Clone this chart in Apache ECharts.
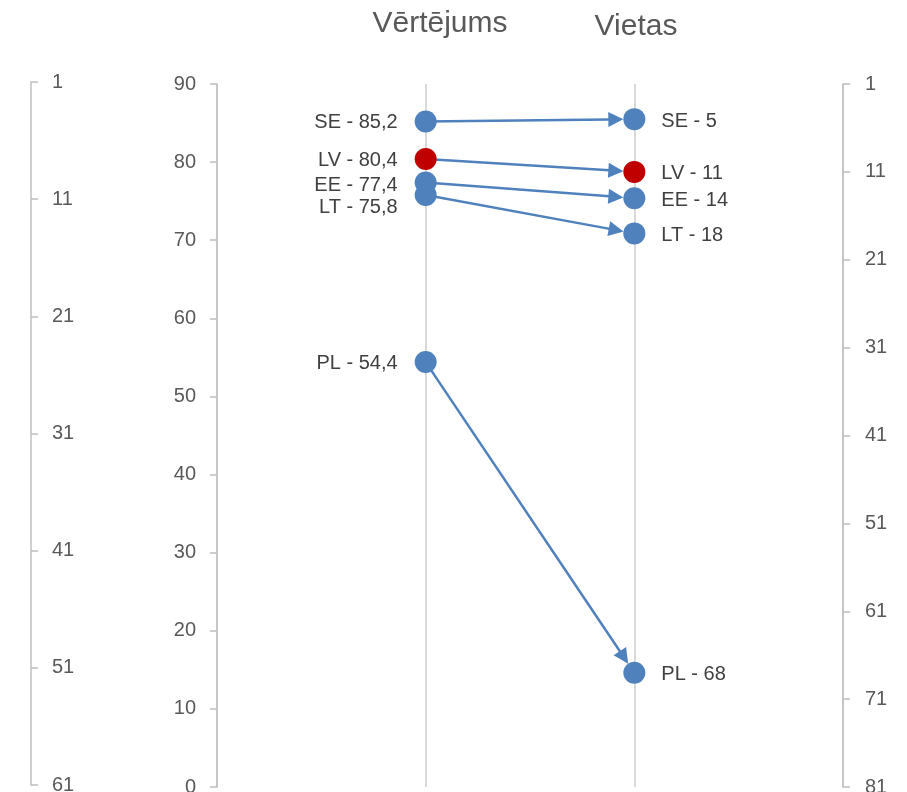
<!DOCTYPE html>
<html>
<head>
<meta charset="utf-8">
<title>Vērtējums / Vietas</title>
<script src="https://cdn.jsdelivr.net/npm/echarts@6/dist/echarts.min.js"></script>
<style>
  html, body { margin: 0; padding: 0; background: #fff; }
  #chart { width: 907px; height: 792px; }
</style>
</head>
<body>
<div id="chart"></div>
<script>
// dati
var countries = ['SE', 'LV', 'EE', 'LT', 'PL']
var scores = [85.2, 80.4, 77.4, 75.8, 54.4]   // vērtējums
var ranks = [5, 11, 14, 18, 68]               // vieta
var headers = ['Vērtējums', 'Vietas']

var blue = '#4f81bd'
var red = '#c00000'
var font = '"Liberation Sans", Arial, sans-serif'

// label nobīdes, lai teksti nepārklātos
var leftOffsets = [[0, 1], [0, 1], [0, 3], [0, 13], [0, 1]]

function fmt(v) {
  return String(v.toFixed(1)).replace('.', ',')
}

var chart = echarts.init(document.getElementById('chart'))

function yAx(grid, pos, min, max, inverse, margin) {
  return {
    gridIndex: grid,
    type: 'value',
    position: pos,
    min: min,
    max: max,
    interval: 10,
    inverse: inverse,
    axisLine: { show: true, onZero: false, lineStyle: { color: '#bfbfbf', width: 1.5 } },
    axisTick: { show: true, length: 7, lineStyle: { color: '#bfbfbf', width: 1.5 } },
    axisLabel: {
      show: true, margin: margin, color: '#595959', fontSize: 20, fontFamily: font,
      showMinLabel: true, showMaxLabel: true, hideOverlap: false
    },
    splitLine: { show: false }
  }
}

chart.setOption({
  animation: false,
  grid: [
    { left: 217, right: 64, top: 84, bottom: 5, containLabel: false, outerBoundsMode: 'none' },
    { left: 0, width: 31, top: 82, bottom: 7, containLabel: false, outerBoundsMode: 'none' }
  ],
  xAxis: [{
    gridIndex: 0,
    type: 'value',
    min: 0,
    max: 3,
    interval: 1,
    axisLine: { show: false },
    axisTick: { show: false },
    axisLabel: { show: false },
    splitLine: { show: true, lineStyle: { color: '#d9d9d9', width: 2 } }
  }, {
    gridIndex: 1,
    type: 'value',
    min: 0,
    max: 1,
    show: false
  }],
  yAxis: [
    yAx(0, 'left', 0, 90, false, 21),
    yAx(0, 'right', 1, 81, true, 22),
    yAx(1, 'right', 1, 61, true, 21)
  ],
  series: [{
    type: 'scatter',
    xAxisIndex: 0,
    yAxisIndex: 0,
    symbolSize: 22,
    z: 5,
    itemStyle: { color: blue, opacity: 1 },
    label: {
      show: true, position: 'left', distance: 17,
      color: '#404040', fontSize: 20, fontFamily: font,
      formatter: function (p) { return p.name + ' - ' + fmt(p.value[1]) }
    },
    data: countries.map(function (c, i) {
      return {
        name: c,
        value: [1, scores[i]],
        itemStyle: c === 'LV' ? { color: red } : undefined,
        label: { offset: leftOffsets[i] }
      }
    })
  }, {
    type: 'scatter',
    xAxisIndex: 0,
    yAxisIndex: 1,
    symbolSize: 22,
    z: 5,
    itemStyle: { color: blue, opacity: 1 },
    label: {
      show: true, position: 'right', distance: 16,
      color: '#404040', fontSize: 20, fontFamily: font,
      formatter: function (p) { return p.name + ' - ' + p.value[1] }
    },
    data: countries.map(function (c, i) {
      return {
        name: c,
        value: [2, ranks[i]],
        itemStyle: c === 'LV' ? { color: red } : undefined,
        label: { offset: [0, 2] }
      }
    })
  }]
})

// bultas starp abām asīm
var R = 11, L = 15, W = 7.5
var elements = []
countries.forEach(function (c, i) {
  var a = chart.convertToPixel({ xAxisIndex: 0, yAxisIndex: 0 }, [1, scores[i]])
  var b = chart.convertToPixel({ xAxisIndex: 0, yAxisIndex: 1 }, [2, ranks[i]])
  var dx = b[0] - a[0], dy = b[1] - a[1]
  var len = Math.sqrt(dx * dx + dy * dy)
  var ux = dx / len, uy = dy / len
  var tip = [b[0] - ux * R, b[1] - uy * R]
  var base = [tip[0] - ux * L, tip[1] - uy * L]
  elements.push({
    type: 'line', z: 1, silent: true,
    shape: { x1: a[0], y1: a[1], x2: base[0] + ux, y2: base[1] + uy },
    style: { stroke: blue, lineWidth: 2.5 }
  })
  elements.push({
    type: 'polygon', z: 1, silent: true,
    shape: { points: [tip, [base[0] - uy * W, base[1] + ux * W], [base[0] + uy * W, base[1] - ux * W]] },
    style: { fill: blue }
  })
})

// virsraksti
var headerPos = [[440, 24], [636, 27]]
headers.forEach(function (h, i) {
  elements.push({
    type: 'text', z: 10, silent: true,
    x: headerPos[i][0], y: headerPos[i][1],
    style: {
      text: h, fill: '#595959', font: '30px ' + font,
      align: 'center', verticalAlign: 'middle',
      textAlign: 'center', textVerticalAlign: 'middle'
    }
  })
})

chart.setOption({ graphic: { elements: elements } })
</script>
</body>
</html>
